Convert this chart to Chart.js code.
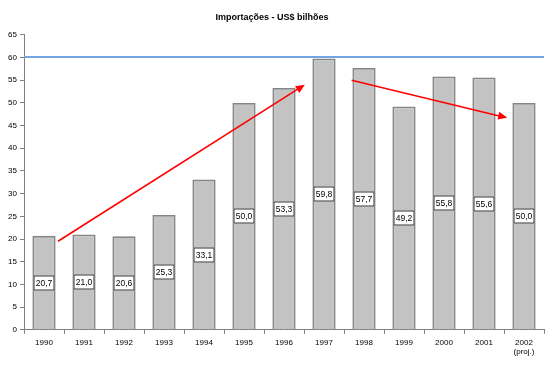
<!DOCTYPE html>
<html><head><meta charset="utf-8">
<script src="https://cdn.jsdelivr.net/npm/chart.js@4"></script>
<style>html,body{margin:0;padding:0;background:#fff}#w{width:550px;height:365px}</style>
</head><body><div id="w"><canvas id="c"></canvas></div>
<script>
const categories = ["1990","1991","1992","1993","1994","1995","1996","1997","1998","1999","2000","2001",["2002","(proj.)"]];
const imports = [20.7,21.0,20.6,25.3,33.1,50.0,53.3,59.8,57.7,49.2,55.8,55.6,50.0];
const valueLabels = ["20,7","21,0","20,6","25,3","33,1","50,0","53,3","59,8","57,7","49,2","55,8","55,6","50,0"];
const yTicks = [0,5,10,15,20,25,30,35,40,45,50,55,60,65];
const refLine = 60;
// trend arrows: [category index position, value] start -> end
const arrowUp = [[0.35,19.5],[6.52,54.0]];
const arrowDown = [[7.69,55.0],[11.58,46.7]];

const FONT = "'Liberation Sans', Arial, sans-serif";

const overlay = {
  id:'overlay',
  afterDatasetsDraw(chart){
    const {ctx, chartArea:a, scales:{x,y}} = chart;
    ctx.save();
    // reference line
    ctx.strokeStyle='#74a6df'; ctx.lineWidth=2;
    ctx.beginPath(); const yy=Math.round(y.getPixelForValue(refLine));
    ctx.moveTo(a.left, yy); ctx.lineTo(a.right, yy); ctx.stroke();
    // value labels
    const meta = chart.getDatasetMeta(0);
    ctx.font = "8.5px "+FONT; ctx.textAlign='center'; ctx.textBaseline='middle';
    meta.data.forEach((bar,i)=>{
      const cx = Math.round(bar.x), cy = Math.round(y.getPixelForValue(imports[i]/2));
      const w = 21, h = 15;
      ctx.fillStyle='#fff'; ctx.fillRect(cx-w/2, cy-h/2, w, h);
      ctx.strokeStyle='#333'; ctx.lineWidth=1; ctx.strokeRect(cx-w/2+0.5, cy-h/2+0.5, w-1, h-1);
      ctx.fillStyle='#000'; ctx.fillText(valueLabels[i], cx, cy+0.5);
    });
    // arrows
    const px = v => x.getPixelForValue(0) + v*(x.getPixelForValue(1)-x.getPixelForValue(0));
    [arrowUp, arrowDown].forEach(ar=>{
      const x1=px(ar[0][0]), y1=y.getPixelForValue(ar[0][1]);
      const x2=px(ar[1][0]), y2=y.getPixelForValue(ar[1][1]);
      const ang=Math.atan2(y2-y1,x2-x1);
      ctx.strokeStyle='#ff0000'; ctx.fillStyle='#ff0000'; ctx.lineWidth=1.6;
      ctx.beginPath(); ctx.moveTo(x1,y1);
      ctx.lineTo(x2-6*Math.cos(ang), y2-6*Math.sin(ang)); ctx.stroke();
      ctx.beginPath(); ctx.moveTo(x2,y2);
      ctx.lineTo(x2-9*Math.cos(ang)+4*Math.sin(ang), y2-9*Math.sin(ang)-4*Math.cos(ang));
      ctx.lineTo(x2-9*Math.cos(ang)-4*Math.sin(ang), y2-9*Math.sin(ang)+4*Math.cos(ang));
      ctx.closePath(); ctx.fill();
    });
    ctx.restore();
  }
};

new Chart(document.getElementById('c'), {
  type:'bar',
  data:{labels:categories, datasets:[{data:imports, backgroundColor:'#c3c3c3', borderColor:'#858585', borderWidth:1.8, categoryPercentage:1, barPercentage:0.58}]},
  options:{
    responsive:true, maintainAspectRatio:false, animation:false,
    layout:{padding:{left:0,right:6,top:0,bottom:4}},
    plugins:{legend:{display:false}, tooltip:{enabled:false},
      title:{display:true, text:'Importações - US$ bilhões', color:'#000', font:{family:FONT, size:9, weight:'bold'}, padding:{top:12,bottom:12}}},
    scales:{
      x:{grid:{display:true, drawOnChartArea:false, offset:true, tickLength:4, color:'#808080'},
         border:{color:'#808080', width:1},
         ticks:{color:'#000', font:{family:FONT, size:8}, maxRotation:0, padding:4}},
      y:{min:0, max:65, afterBuildTicks(s){s.ticks=yTicks.map(v=>({value:v}));},
         afterFit(s){s.width=24;},
         grid:{display:true, drawOnChartArea:false, tickLength:4, color:'#808080'},
         border:{color:'#808080', width:1},
         ticks:{color:'#000', font:{family:FONT, size:8}, padding:3}}
    }
  },
  plugins:[overlay]
});
</script></body></html>
